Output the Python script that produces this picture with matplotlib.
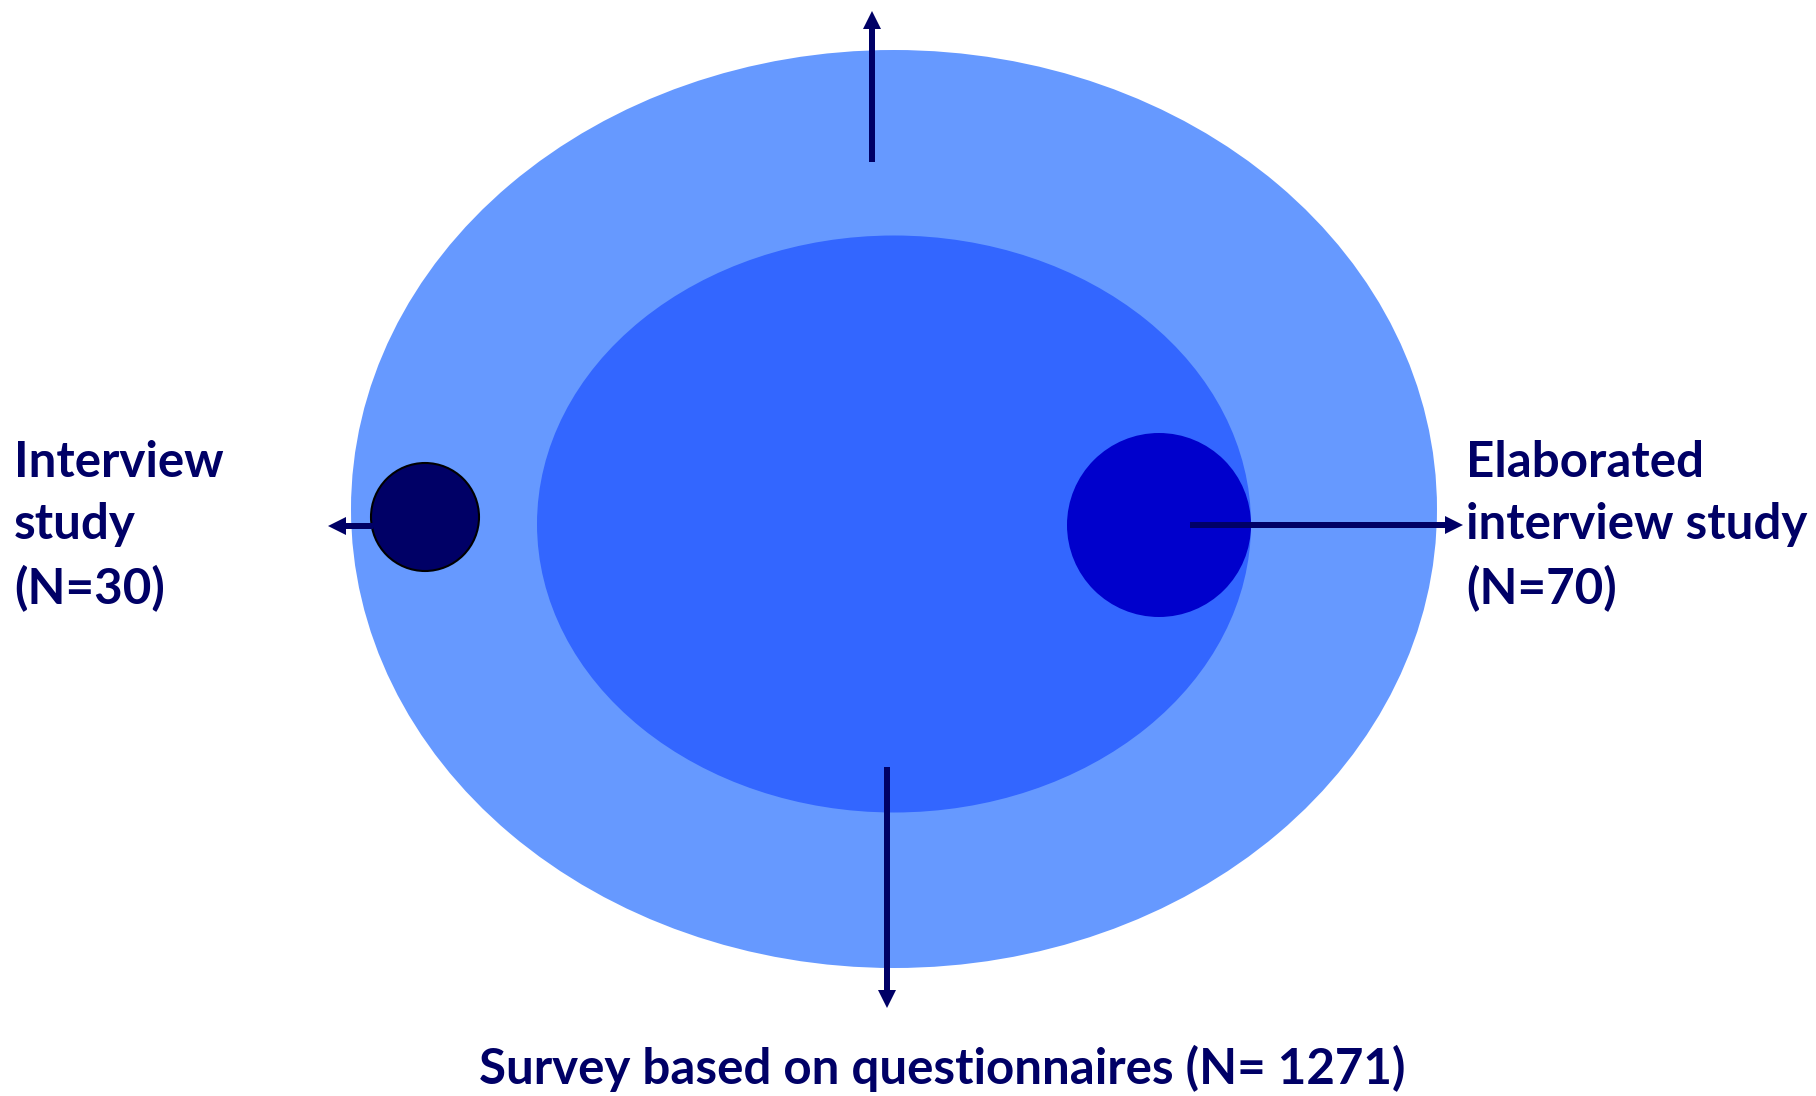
import matplotlib.pyplot as plt
from matplotlib.patches import Ellipse, Circle

plt.rcParams['font.family'] = ['Lato', 'DejaVu Sans']

# study groups and sample sizes
groups = ["Interview\nstudy", "Elaborated\ninterview study", "Survey based on questionnaires"]
sizes = [30, 70, 1271]

navy = "#000066"

fig = plt.figure(figsize=(18.16, 10.96), dpi=100)
ax = fig.add_axes([0, 0, 1, 1])
ax.set_xlim(0, 1816)
ax.set_ylim(1096, 0)
ax.axis("off")

# nested ellipses
ax.add_patch(Ellipse((894, 509), 1086, 918, color="#6699FF", lw=0))
ax.add_patch(Ellipse((894, 524), 714, 577, color="#3366FF", lw=0))

# small circles
ax.add_patch(Circle((1159, 525), 92, color="#0000CC", lw=0))
ax.add_patch(Circle((425, 517), 54, facecolor=navy, edgecolor="black", lw=1.5))

# arrows
arr = dict(width=6, head_width=18, head_length=18, length_includes_head=True,
           color=navy, lw=0)
ax.arrow(872, 162, 0, 11 - 162, **arr)
ax.arrow(887, 767, 0, 1008 - 767, **arr)
ax.arrow(1190, 525, 1463 - 1190, 0, **arr)
ax.arrow(373, 526, 328 - 373, 0, **arr)

fs = 35.5
ax.text(14, 526, f"{groups[0]}\n(N={sizes[0]})", fontsize=fs, fontweight="bold",
        color=navy, ha="left", va="center", linespacing=1.47)
ax.text(1466, 526, f"{groups[1]}\n(N={sizes[1]})", fontsize=fs, fontweight="bold",
        color=navy, ha="left", va="center", linespacing=1.47)
ax.text(942, 1068, f"{groups[2]} (N= {sizes[2]})", fontsize=fs, fontweight="bold",
        color=navy, ha="center", va="center")

fig.savefig("out.png", dpi=100)
